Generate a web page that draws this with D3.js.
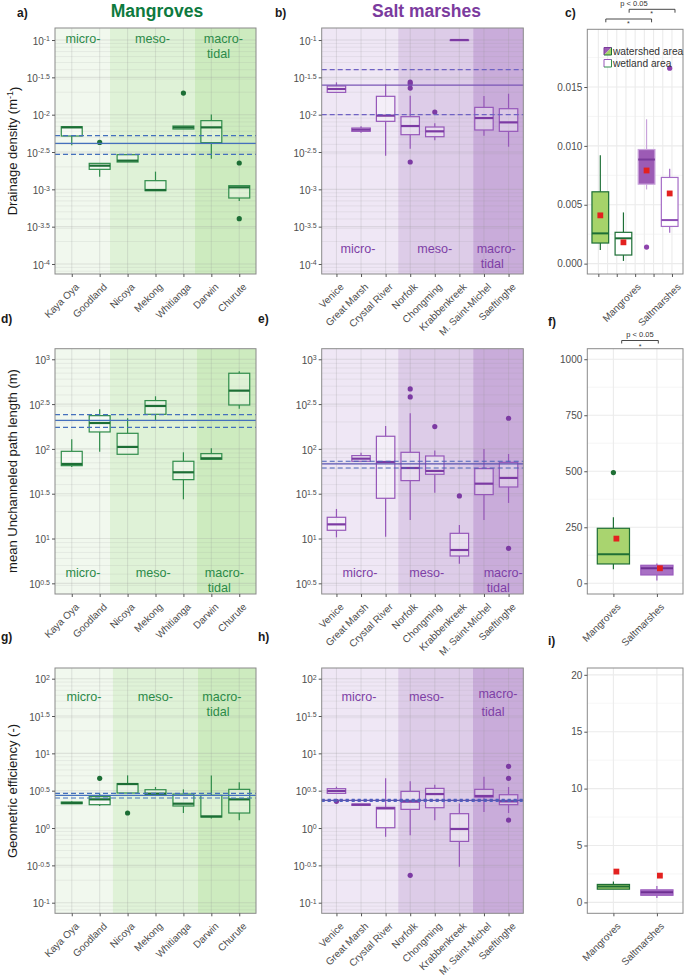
<!DOCTYPE html>
<html><head><meta charset="utf-8">
<script src="https://cdn.jsdelivr.net/npm/d3@7"></script>
<style>body{margin:0;background:#fff}svg{display:block}</style>
</head><body>
<svg id="chart" width="685" height="978"></svg>
<script>
// ---------------- DATA ----------------
const mangroveSites = ["Kaya Oya","Goodland","Nicoya","Mekong","Whitianga","Darwin","Churute"];
const saltSites = ["Venice","Great Marsh","Crystal River","Norfolk","Chongming","Krabbenkreek","M. Saint-Michel","Saeftinghe"];
const summaryGroups = ["Mangroves","Saltmarshes"];
const zoneNames = ["micro-","meso-","macro-","tidal"];

// log10 tick exponents
const ticksDensity = [-1,-1.5,-2,-2.5,-3,-3.5,-4];
const ticksPath = [3,2.5,2,1.5,1,0.5];
const ticksEff = [2,1.5,1,0.5,0,-0.5,-1];

// box stats in log10 units: [lower whisker, Q1, median, Q3, upper whisker]
const densityMangroves = [
  [-2.41,-2.286,-2.17,-2.161,-2.161],
  [-2.83,-2.732,-2.683,-2.652,-2.652],
  [-2.634,-2.634,-2.616,-2.536,-2.536],
  [-3.018,-3.018,-3.009,-2.884,-2.763],
  [-2.192,-2.192,-2.17,-2.152,-2.152],
  [-2.589,-2.375,-2.17,-2.08,-1.996],
  [-3.156,-3.116,-2.973,-2.951,-2.951]];
const densityMangrovesOutliers = [[1,-2.371],[4,-1.71],[6,-2.647],[6,-3.393]];
const densityMangrovesRef = [-2.281,-2.384,-2.531];

const densitySalt = [
  [-1.701,-1.701,-1.656,-1.616,-1.567],
  [-2.241,-2.223,-2.201,-2.179,-2.156],
  [-2.549,-2.089,-2.013,-1.754,-1.594],
  [-2.455,-2.268,-2.152,-2.027,-1.746],
  [-2.344,-2.295,-2.223,-2.165,-2.116],
  [-1.0,-1.0,-1.0,-1.0,-1.0],
  [-2.281,-2.205,-2.045,-1.902,-1.75],
  [-2.429,-2.223,-2.103,-1.92,-1.719]];
const densitySaltOutliers = [[3,-1.5625],[3,-1.585],[3,-1.643],[3,-2.634],[4,-1.964]];
const densitySaltRef = [-1.397,-1.603,-2.0];

const pathMangroves = [
  [1.798,1.813,1.832,1.973,2.107],
  [1.969,2.189,2.289,2.371,2.442],
  [1.94,1.94,2.022,2.174,2.342],
  [2.312,2.386,2.479,2.539,2.587],
  [1.4375,1.657,1.739,1.862,1.962],
  [1.884,1.884,1.895,1.947,2.007],
  [2.449,2.49,2.65,2.844,2.866]];
const pathMangrovesOutliers = [];
const pathMangrovesRef = [2.382,2.319,2.241];

const pathSalt = [
  [1.013,1.092,1.158,1.237,1.33],
  [1.862,1.862,1.891,1.925,1.958],
  [1.021,1.449,1.854,2.141,2.256],
  [1.207,1.646,1.787,1.962,2.397],
  [1.512,1.717,1.754,1.921,1.981],
  [0.719,0.805,0.872,1.058,1.151],
  [1.207,1.49,1.612,1.78,2.0],
  [1.397,1.575,1.676,1.85,1.943]];
const pathSaltOutliers = [[3,2.669],[3,2.58],[4,2.249],[5,1.475],[7,2.342],[7,0.891]];
const pathSaltRef = [1.862,1.832,1.787];

const effMangroves = [
  [0.326,0.326,0.335,0.348,0.36],
  [0.295,0.3125,0.384,0.42,0.464],
  [0.469,0.469,0.589,0.594,0.705],
  [0.442,0.442,0.46,0.513,0.549],
  [0.201,0.295,0.326,0.455,0.518],
  [0.129,0.147,0.156,0.4375,0.705],
  [0.103,0.201,0.384,0.518,0.612]];
const effMangrovesOutliers = [[1,0.665],[2,0.201]];
const effMangrovesRef = [0.464,0.4375,0.402];

const effSalt = [
  [0.464,0.464,0.496,0.527,0.554],
  [0.304,0.304,0.3125,0.321,0.321],
  [-0.116,0.004,0.263,0.277,0.665],
  [-0.098,0.25,0.353,0.491,0.625],
  [0.103,0.272,0.455,0.531,0.58],
  [-0.518,-0.179,-0.013,0.192,0.33],
  [0.214,0.415,0.429,0.518,0.6875],
  [0.201,0.3125,0.357,0.446,0.549]];
const effSaltOutliers = [[0,0.357],[3,-0.634],[7,0.826],[7,0.665],[7,0.107]];
const effSaltRef = [0.375,0.371,0.367];

// summary panels (linear values)
const drainageWatershed = [[0.00116,0.00175,0.00257,0.0061,0.0092],[0.0063,0.00675,0.00884,0.00969,0.01226]];
const drainageWatershedMean = [0.0041,0.00791];
const drainageWatershedOutliers = [[],[0.00141]];
const drainageWetland = [[0.00023,0.00073,0.00215,0.00266,0.00435],[0.00263,0.00316,0.0037,0.00732,0.00805]];
const drainageWetlandMean = [0.00181,0.00596];
const drainageWetlandOutliers = [[],[0.0166]];
const drainageTicks = [0,0.005,0.01,0.015];

const pathSummary = [[62.5,86.3,129.5,245.5,294.6],[11.9,37.2,67,80.4,87.8]];
const pathSummaryMean = [199.4,67];
const pathSummaryOutliers = [[494],[]];
const pathSummaryTicks = [0,250,500,750,1000];

const effSummary = [[1.161,1.161,1.399,1.577,1.845],[0.387,0.625,0.893,1.101,1.429]];
const effSummaryMean = [2.708,2.351];
const effSummaryTicks = [0,5,10,15,20];

// ---------------- DRAWING ----------------
const FONT = "Arial, 'Liberation Sans', Helvetica, sans-serif";
const svg = d3.select("#chart").attr("font-family", FONT);
const GREEN = "#2f8c4a", GREEN_DARK = "#1c6e35";
const PURPLE = "#9657b9", PURPLE_DARK = "#7c3aa3";
const GREEN_ZONES = ["#f1f8ee","#dff2d7","#cdebbf"];
const PURPLE_ZONES = ["#efe7f5","#ddcce8","#c9acda"];
const GRID = "rgba(150,150,150,0.22)";
const BORDER = "#8a8a8a";
const TICKTXT = "#4d4d4d";
const REF_BLUE = "#4470bd";

function styleXLabels(ax, dx) {
  ax.selectAll(".tick text")
    .attr("x",0).attr("y",0).attr("dy","0.35em")
    .attr("text-anchor","end")
    .attr("transform",`translate(${dx},11) rotate(-45)`)
    .attr("fill",TICKTXT).attr("font-size",10).attr("font-family",FONT);
  ax.selectAll(".tick line").attr("stroke","#555");
  ax.select(".domain").remove();
}

function drawLogPanel(o) {
  const g = svg.append("g");
  const x = d3.scalePoint().domain(o.sites).range([o.x0,o.x1]).padding(0.6);
  const y = d3.scaleLinear().domain(o.domain).range([o.y1,o.y0]);
  const step = x.step(), bw = step*0.75;
  const xAt = t => x(o.sites[0]) + t*step;
  const edges = [o.x0, xAt(o.zoneEdges[0]), xAt(o.zoneEdges[1]), o.x1];
  o.zoneColors.forEach((c,k)=>g.append("rect").attr("x",edges[k]).attr("y",o.y0)
    .attr("width",edges[k+1]-edges[k]).attr("height",o.y1-o.y0).attr("fill",c));
  // minor log grid
  const [lo,hi] = o.domain;
  for (let k=Math.floor(lo)-1;k<=Math.ceil(hi);k++) for (let m=2;m<=9;m++){
    const v = k+Math.log10(m);
    if (v>lo && v<hi) g.append("line").attr("x1",o.x0).attr("x2",o.x1).attr("y1",y(v)).attr("y2",y(v))
      .attr("stroke",GRID).attr("stroke-width",0.6);
  }
  o.ticks.forEach(v=>g.append("line").attr("x1",o.x0).attr("x2",o.x1).attr("y1",y(v)).attr("y2",y(v))
      .attr("stroke",GRID).attr("stroke-width",1.1));
  o.sites.forEach(s=>g.append("line").attr("x1",x(s)).attr("x2",x(s)).attr("y1",o.y0).attr("y2",o.y1)
      .attr("stroke",GRID).attr("stroke-width",1.1));
  // boxes
  o.boxes.forEach((b,i)=>{
    const cx = x(o.sites[i]);
    g.append("line").attr("x1",cx).attr("x2",cx).attr("y1",y(b[4])).attr("y2",y(b[3])).attr("stroke",o.color).attr("stroke-width",1.2);
    g.append("line").attr("x1",cx).attr("x2",cx).attr("y1",y(b[1])).attr("y2",y(b[0])).attr("stroke",o.color).attr("stroke-width",1.2);
    g.append("rect").attr("x",cx-bw/2).attr("y",y(b[3])).attr("width",bw).attr("height",Math.max(0.5,y(b[1])-y(b[3])))
      .attr("fill","rgba(255,255,255,0.35)").attr("stroke",o.color).attr("stroke-width",1.2);
    g.append("line").attr("x1",cx-bw/2).attr("x2",cx+bw/2).attr("y1",y(b[2])).attr("y2",y(b[2])).attr("stroke",o.dark).attr("stroke-width",2.2);
  });
  o.outliers.forEach(([i,v])=>g.append("circle").attr("cx",x(o.sites[i])).attr("cy",y(v)).attr("r",2.6).attr("fill",o.dark));
  // reference lines
  const [d1,s,d2] = o.ref;
  [d1,d2].forEach(v=>g.append("line").attr("x1",o.x0).attr("x2",o.x1).attr("y1",y(v)).attr("y2",y(v))
    .attr("stroke",o.refColor).attr("stroke-width",o.refDashWidth||1.2).attr("stroke-dasharray",o.refDash||"5,3"));
  g.append("line").attr("x1",o.x0).attr("x2",o.x1).attr("y1",y(s)).attr("y2",y(s)).attr("stroke",o.refSolid||o.refColor).attr("stroke-width",1.2);
  // border
  g.append("rect").attr("x",o.x0).attr("y",o.y0).attr("width",o.x1-o.x0).attr("height",o.y1-o.y0)
    .attr("fill","none").attr("stroke",BORDER).attr("stroke-width",1);
  // y axis
  const ay = g.append("g").attr("transform",`translate(${o.x0},0)`)
    .call(d3.axisLeft(y).tickValues(o.ticks).tickSize(3).tickPadding(2).tickFormat(""));
  ay.select(".domain").remove();
  ay.selectAll(".tick line").attr("stroke","#555");
  ay.selectAll(".tick text").attr("fill",TICKTXT).attr("font-size",10).attr("font-family",FONT).attr("dy","0.42em")
    .each(function(d){const t=d3.select(this);
      t.append("tspan").text("10");
      t.append("tspan").attr("dy","-0.5em").attr("font-size",7).text(String(d));});
  // x axis
  const ax = g.append("g").attr("transform",`translate(0,${o.y1})`).call(d3.axisBottom(x).tickSize(3));
  styleXLabels(ax,5);
  // zone labels
  const zc = [(edges[0]+edges[1])/2,(edges[1]+edges[2])/2,(edges[2]+edges[3])/2];
  const zl = g.append("g").attr("fill",o.zoneText).attr("font-size",12.6).attr("text-anchor","middle");
  zl.append("text").attr("x",zc[0]+o.zdx[0]).attr("y",o.zy).text(zoneNames[0]);
  zl.append("text").attr("x",zc[1]+o.zdx[1]).attr("y",o.zy).text(zoneNames[1]);
  zl.append("text").attr("x",zc[2]+o.zdx[2]).attr("y",o.zy+(o.macroDy||0)).text(zoneNames[2]);
  zl.append("text").attr("x",zc[2]+o.zdx[3]).attr("y",o.zy+15).text(zoneNames[3]);
  return {x,y};
}

function yTitle(txt, cy, sup) {
  const t = svg.append("text").attr("transform",`translate(17,${cy}) rotate(-90)`).attr("text-anchor","middle")
    .attr("font-size",13).attr("fill","#1a1a1a").text(txt);
  if (sup) { t.append("tspan").attr("dy","-0.45em").attr("font-size",9).text(sup);
             t.append("tspan").attr("dy","0.45em").text(")"); }
}

// Titles
svg.append("text").attr("x",157).attr("y",17).attr("text-anchor","middle").attr("font-weight","bold")
  .attr("font-size",17.5).attr("fill","#0d7a3e").text("Mangroves");
svg.append("text").attr("x",426.5).attr("y",17).attr("text-anchor","middle").attr("font-weight","bold")
  .attr("font-size",17.5).attr("fill","#7b3b9e").text("Salt marshes");

// panel letters
[["a)",17,17],["b)",275,17],["c)",565,17],["d)",1,323],["e)",258,323],["f)",548,326],["g)",1,641],["h)",258,641],["i)",548,645]]
  .forEach(([t,x,y])=>svg.append("text").attr("x",x).attr("y",y).attr("font-weight","bold").attr("font-size",12).attr("fill","#1a1a1a").text(t));

const DOM_A = [-4.134,-0.839], DOM_D = [0.381,3.118], DOM_G = [-1.142,2.143];

drawLogPanel({x0:55,x1:256,y0:28,y1:274,sites:mangroveSites,domain:DOM_A,ticks:ticksDensity,
  boxes:densityMangroves,outliers:densityMangrovesOutliers,ref:densityMangrovesRef,
  zoneEdges:[1.37,4.41],zoneColors:GREEN_ZONES,color:GREEN,dark:GREEN_DARK,refColor:REF_BLUE,
  zoneText:"#2b8a48",zy:42.5,zdx:[0.5,0,-2,-7]});
drawLogPanel({x0:321.7,x1:523.3,y0:28,y1:274,sites:saltSites,domain:DOM_A,ticks:ticksDensity,
  boxes:densitySalt,outliers:densitySaltOutliers,ref:densitySaltRef,
  zoneEdges:[2.51,5.56],zoneColors:PURPLE_ZONES,color:PURPLE,dark:PURPLE_DARK,refColor:"#6f62c4",refSolid:"#7a56b6",
  zoneText:"#7e3fa6",zy:253,zdx:[-2,-1,-2,-6]});
yTitle("Drainage density (m",151,"-1");

drawLogPanel({x0:55,x1:256,y0:348.7,y1:594,sites:mangroveSites,domain:DOM_D,ticks:ticksPath,
  boxes:pathMangroves,outliers:pathMangrovesOutliers,ref:pathMangrovesRef,
  zoneEdges:[1.37,4.47],zoneColors:GREEN_ZONES,color:GREEN,dark:GREEN_DARK,refColor:REF_BLUE,
  zoneText:"#2b8a48",zy:576.7,zdx:[0.5,0,-2,-7]});
drawLogPanel({x0:321.7,x1:523.3,y0:348.7,y1:594,sites:saltSites,domain:DOM_D,ticks:ticksPath,
  boxes:pathSalt,outliers:pathSaltOutliers,ref:pathSaltRef,
  zoneEdges:[2.51,5.56],zoneColors:PURPLE_ZONES,color:PURPLE,dark:PURPLE_DARK,refColor:"#4a62b8",refSolid:"#5a55b0",
  zoneText:"#7e3fa6",zy:576.7,zdx:[0,-9,5,0]});
yTitle("mean Unchanneled path length (m)",471);

drawLogPanel({x0:55,x1:256,y0:668,y1:913.3,sites:mangroveSites,domain:DOM_G,ticks:ticksEff,
  boxes:effMangroves,outliers:effMangrovesOutliers,ref:effMangrovesRef,
  zoneEdges:[1.47,4.52],zoneColors:GREEN_ZONES,color:GREEN,dark:GREEN_DARK,refColor:REF_BLUE,
  zoneText:"#2b8a48",zy:700.7,zdx:[0,0,-5,-9]});
drawLogPanel({x0:321.7,x1:523.3,y0:668,y1:913.3,sites:saltSites,domain:DOM_G,ticks:ticksEff,
  boxes:effSalt,outliers:effSaltOutliers,ref:effSaltRef,
  zoneEdges:[2.51,5.54],zoneColors:PURPLE_ZONES,color:PURPLE,dark:PURPLE_DARK,refColor:"#4f63c2",refSolid:"#5a55b0",
  refDash:"3,3",refDashWidth:2.6,
  zoneText:"#7e3fa6",zy:700.7,zdx:[-1,-9,0,-5],macroDy:-2.4});
yTitle("Geometric efficiency (-)",791);

// ---- linear summary panels ----
function linFrame(o) {
  const g = svg.append("g");
  const y = d3.scaleLinear().domain(o.domain).range([o.y1,o.y0]);
  g.append("rect").attr("x",o.x0).attr("y",o.y0).attr("width",o.x1-o.x0).attr("height",o.y1-o.y0).attr("fill","#fff");
  const minor = d3.range(o.ticks.length-1).map(i=>(o.ticks[i]+o.ticks[i+1])/2);
  if (o.ticks.length) minor.push(o.ticks[o.ticks.length-1]+(o.ticks[1]-o.ticks[0])/2);
  minor.forEach(v=>{ if(v>o.domain[0]&&v<o.domain[1]) g.append("line").attr("x1",o.x0).attr("x2",o.x1).attr("y1",y(v)).attr("y2",y(v)).attr("stroke","#f0f0f0").attr("stroke-width",0.6);});
  o.ticks.forEach(v=>g.append("line").attr("x1",o.x0).attr("x2",o.x1).attr("y1",y(v)).attr("y2",y(v)).attr("stroke","#ebebeb").attr("stroke-width",1.1));
  o.vlines.forEach(v=>g.append("line").attr("x1",v).attr("x2",v).attr("y1",o.y0).attr("y2",o.y1).attr("stroke","#ebebeb").attr("stroke-width",1.1));
  return {g,y};
}
function linAxes(g,o,y){
  g.append("rect").attr("x",o.x0).attr("y",o.y0).attr("width",o.x1-o.x0).attr("height",o.y1-o.y0).attr("fill","none").attr("stroke",BORDER);
  const ay = g.append("g").attr("transform",`translate(${o.x0},0)`)
    .call(d3.axisLeft(y).tickValues(o.ticks).tickSize(3).tickPadding(2).tickFormat(o.fmt));
  ay.select(".domain").remove();
  ay.selectAll(".tick line").attr("stroke","#555");
  ay.selectAll(".tick text").attr("fill",TICKTXT).attr("font-size",10).attr("font-family",FONT);
}
function drawBox(g,y,cx,w,b,fill,stroke,med,mean,outs,outColor){
  g.append("line").attr("x1",cx).attr("x2",cx).attr("y1",y(b[4])).attr("y2",y(b[3])).attr("stroke",stroke).attr("stroke-width",1.2);
  g.append("line").attr("x1",cx).attr("x2",cx).attr("y1",y(b[1])).attr("y2",y(b[0])).attr("stroke",stroke).attr("stroke-width",1.2);
  g.append("rect").attr("x",cx-w/2).attr("y",y(b[3])).attr("width",w).attr("height",y(b[1])-y(b[3])).attr("fill",fill).attr("stroke",stroke).attr("stroke-width",1.2);
  g.append("line").attr("x1",cx-w/2).attr("x2",cx+w/2).attr("y1",y(b[2])).attr("y2",y(b[2])).attr("stroke",med).attr("stroke-width",2);
  (outs||[]).forEach(v=>g.append("circle").attr("cx",cx).attr("cy",y(v)).attr("r",2.6).attr("fill",outColor));
  if (mean!=null) g.append("rect").attr("x",cx-2.9+(w>25?3:0)).attr("y",y(mean)-2.9).attr("width",5.8).attr("height",5.8).attr("fill","#e3211f");
}

// Panel c
(function(){
  const o = {x0:587.3,x1:683,y0:29.3,y1:274,domain:[-0.00088,0.0199],ticks:drainageTicks,fmt:d3.format(".3f")};
  const xt = d3.scalePoint().domain(d3.range(5)).range([o.x0,o.x1]).padding(0.6);
  const xb = d3.scalePoint().domain(d3.range(4)).range([588.75,681.25]).padding(0.5);
  o.vlines = d3.range(0,4.01,0.5).map(t=>xt(0)+t*xt.step()).filter(v=>v<o.x1);
  const {g,y} = linFrame(o);
  const bw = 16.7;
  drawBox(g,y,xb(0),bw,drainageWatershed[0],"#a6d36a",GREEN_DARK,GREEN_DARK,drainageWatershedMean[0],drainageWatershedOutliers[0],GREEN_DARK);
  drawBox(g,y,xb(1),bw,drainageWetland[0],"#fff",GREEN_DARK,GREEN_DARK,drainageWetlandMean[0],drainageWetlandOutliers[0],GREEN_DARK);
  drawBox(g,y,xb(2),bw,drainageWatershed[1],"#9c5bb5","#c9a3db","#7a3b9a",drainageWatershedMean[1],drainageWatershedOutliers[1],"#8e44ad");
  drawBox(g,y,xb(3),bw,drainageWetland[1],"#fff","#a56cc6","#8e4fb5",drainageWetlandMean[1],drainageWetlandOutliers[1],"#8e44ad");
  linAxes(g,o,y);
  const ax = g.append("g").attr("transform",`translate(0,${o.y1})`).call(d3.axisBottom(xt).tickSize(3).tickFormat(""));
  ax.select(".domain").remove(); ax.selectAll(".tick line").attr("stroke","#555");
  const lx = d3.scalePoint().domain(summaryGroups).range([xt(2),xt(4)+3]);
  summaryGroups.forEach(s=>g.append("text").attr("x",0).attr("y",0).attr("dy","0.35em").attr("text-anchor","end")
    .attr("transform",`translate(${lx(s)+4},${o.y1+11}) rotate(-45)`).attr("fill",TICKTXT).attr("font-size",10).text(s));
  // legend
  const L = g.append("g");
  L.append("path").attr("d","M604,47.5 h7.5 l-7.5,7.5 z").attr("fill","#9c5bb5");
  L.append("path").attr("d","M611.5,47.5 v7.5 h-7.5 z").attr("fill","#a6d36a");
  L.append("path").attr("d","M604,55 v-7.5 h7.5").attr("fill","none").attr("stroke","#7a3b9a").attr("stroke-width",1);
  L.append("path").attr("d","M611.5,47.5 v7.5 h-7.5").attr("fill","none").attr("stroke",GREEN_DARK).attr("stroke-width",1);
  L.append("rect").attr("x",604).attr("y",59.5).attr("width",7.5).attr("height",7.5).attr("fill","#fff");
  L.append("path").attr("d","M604,67 v-7.5 h7.5").attr("fill","none").attr("stroke","#9657b9").attr("stroke-width",1);
  L.append("path").attr("d","M611.5,59.5 v7.5 h-7.5").attr("fill","none").attr("stroke",GREEN).attr("stroke-width",1);
  L.append("text").attr("x",613).attr("y",55.3).attr("font-size",10.2).attr("fill","#333").text("watershed area");
  L.append("text").attr("x",613).attr("y",67).attr("font-size",10.2).attr("fill","#333").text("wetland area");
  // significance
  const S = svg.append("g").attr("stroke","#333").attr("stroke-width",0.9).attr("fill","none");
  S.append("path").attr("d",`M${xb(0)+5.5},22.3 V19 H${xb(2)+5} V22.3`);
  S.append("path").attr("d",`M${xb(1)+5.7},12.7 V9.3 H${xb(3)+5.3} V12.7`);
  svg.append("text").attr("x",xb(1)+5).attr("y",25.5).attr("text-anchor","middle").attr("font-size",7).attr("fill","#333").text("*");
  svg.append("text").attr("x",xb(2)+5).attr("y",16).attr("text-anchor","middle").attr("font-size",7).attr("fill","#333").text("*");
  svg.append("text").attr("x",634).attr("y",6).attr("text-anchor","middle").attr("font-size",7.5).attr("fill","#333").text("p < 0.05");
})();

function summaryPanel(o, stats, means, outs){
  const x = d3.scalePoint().domain(summaryGroups).range([o.x0,o.x1]).padding(0.6);
  o.vlines = summaryGroups.map(s=>x(s));
  const {g,y} = linFrame(o);
  const w = x.step()*0.74;
  drawBox(g,y,x(summaryGroups[0]),w,stats[0],"#a9d46f","#1f6f35","#1f6f35",means[0],outs[0],"#1f6f35");
  drawBox(g,y,x(summaryGroups[1]),w,stats[1],"#a870c4","#9a5abd","#6e2f92",means[1],outs[1],"#8e44ad");
  linAxes(g,o,y);
  const ax = g.append("g").attr("transform",`translate(0,${o.y1})`).call(d3.axisBottom(x).tickSize(3));
  styleXLabels(ax,5);
  return {x,y};
}
(function(){
  const o = {x0:587.3,x1:683,y0:348.7,y1:594,domain:[-47.8,1047],ticks:pathSummaryTicks,fmt:d3.format("d")};
  summaryPanel(o,pathSummary,pathSummaryMean,pathSummaryOutliers);
  const S = svg.append("g").attr("stroke","#333").attr("stroke-width",0.9).attr("fill","none");
  S.append("path").attr("d","M621.7,343.5 V340.5 H658.3 V343.5");
  svg.append("text").attr("x",640).attr("y",349).attr("text-anchor","middle").attr("font-size",7).attr("fill","#333").text("*");
  svg.append("text").attr("x",640).attr("y",337).attr("text-anchor","middle").attr("font-size",7.5).attr("fill","#333").text("p < 0.05");
})();
(function(){
  const o = {x0:587.3,x1:683,y0:668,y1:913.3,domain:[-0.96,20.6],ticks:effSummaryTicks,fmt:d3.format("d")};
  summaryPanel(o,effSummary,effSummaryMean,[[],[]]);
})();
</script>
</body></html>
